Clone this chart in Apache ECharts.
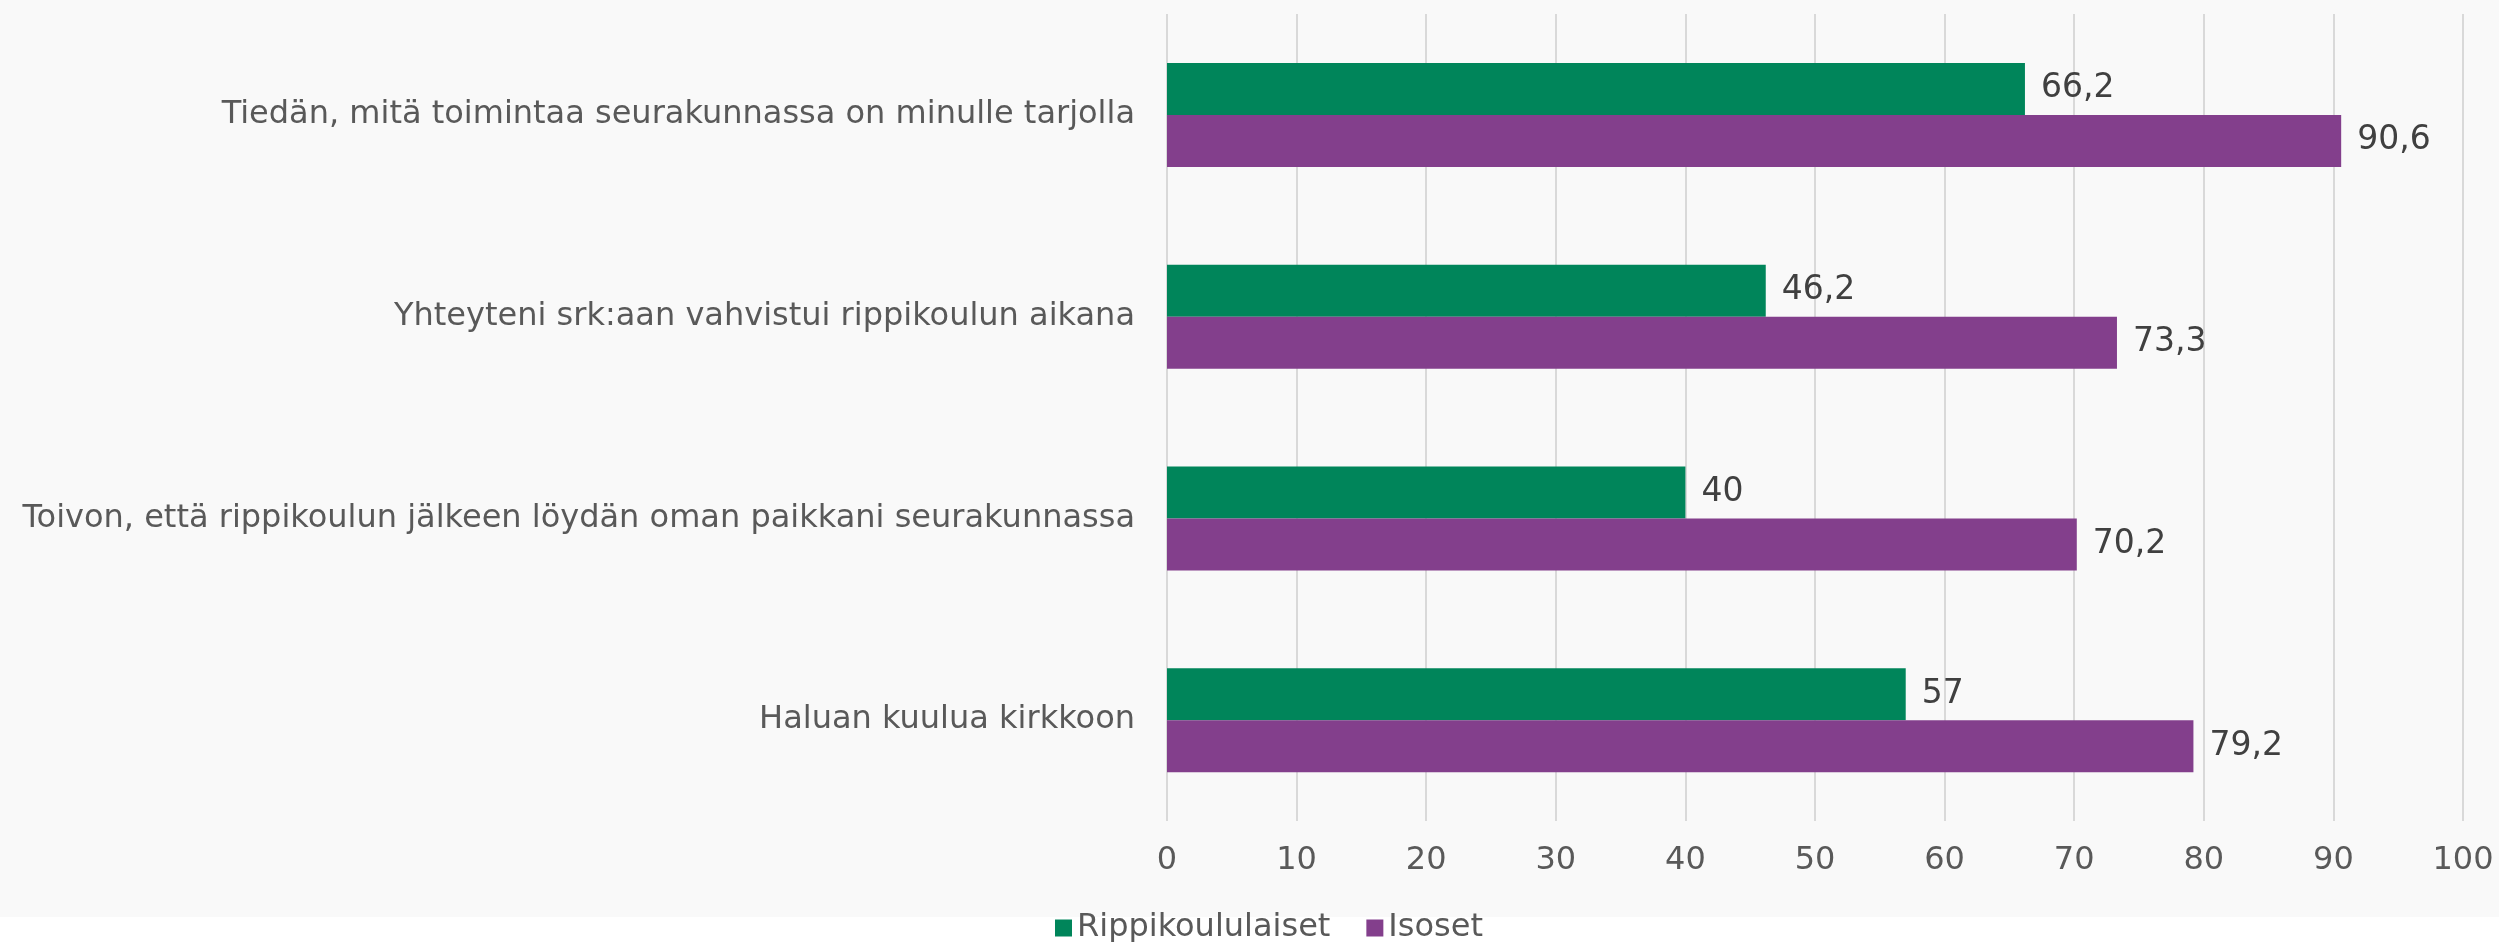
<!DOCTYPE html>
<html><head><meta charset="utf-8">
<script src="https://cdn.jsdelivr.net/npm/echarts@6/dist/echarts.min.js"></script>
<style>html,body{margin:0;padding:0;background:#fff}#c{width:2499px;height:942px}</style>
</head><body><div id="c"></div>
<script>
const categories = [
  "Tiedän, mitä toimintaa seurakunnassa on minulle tarjolla",
  "Yhteyteni srk:aan vahvistui rippikoulun aikana",
  "Toivon, että rippikoulun jälkeen löydän oman paikkani seurakunnassa",
  "Haluan kuulua kirkkoon"
];
const rippikoululaiset = [66.2, 46.2, 40, 57];
const isoset = [90.6, 73.3, 70.2, 79.2];
const seriesNames = ["Rippikoululaiset", "Isoset"];

const chart = echarts.init(document.getElementById('c'));
const font = 'DejaVu Sans, Verdana, sans-serif';
const fmt = p => String(p.value).replace('.', ',');
chart.setOption({
  backgroundColor: '#ffffff',
  animation: false,
  graphic: [{type: 'rect', z: -10, shape: {x: 0, y: 0, width: 2499, height: 917}, style: {fill: '#f9f9f9'}}],
  grid: {left: 1167, right: 36, top: 14, bottom: 121, containLabel: false},
  legend: {
    data: seriesNames, bottom: -7, left: 1050, itemWidth: 17, itemHeight: 17, itemGap: 36,
    icon: 'rect', textStyle: {fontFamily: font, fontSize: 32, color: '#595959'}
  },
  xAxis: {
    type: 'value', min: 0, max: 100, interval: 10,
    axisLine: {show: false}, axisTick: {show: false},
    splitLine: {lineStyle: {color: '#d9d9d9', width: 2}},
    axisLabel: {fontFamily: font, fontSize: 32, color: '#595959', margin: 24}
  },
  yAxis: {
    type: 'category', data: categories, inverse: true,
    axisLine: {show: false}, axisTick: {show: false},
    axisLabel: {fontFamily: font, fontSize: 32, color: '#595959', margin: 32}
  },
  series: [
    {name: seriesNames[0], type: 'bar', data: rippikoululaiset, barWidth: 52, barGap: '0%',
     itemStyle: {color: '#00855a'},
     label: {show: true, position: 'right', distance: 16, formatter: fmt, fontFamily: font, fontSize: 33, color: '#404040'}},
    {name: seriesNames[1], type: 'bar', data: isoset, barWidth: 52,
     itemStyle: {color: '#833f8c'},
     label: {show: true, position: 'right', distance: 16, formatter: fmt, fontFamily: font, fontSize: 33, color: '#404040'}}
  ]
});
</script></body></html>
